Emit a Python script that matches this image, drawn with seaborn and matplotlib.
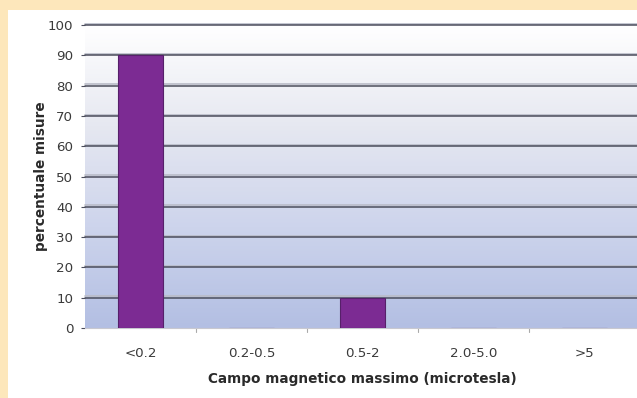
import numpy as np
import pandas as pd
import matplotlib
matplotlib.use("Agg")
import matplotlib.pyplot as plt
from matplotlib.patches import Rectangle
from matplotlib.colors import LinearSegmentedColormap
import seaborn as sns

# Distribution of measurements by maximum magnetic field class
categories = ["<0.2", "0.2-0.5", "0.5-2", "2.0-5.0", ">5"]
percent = [90, 0, 10, 0, 0]
y_ticks = [0, 10, 20, 30, 40, 50, 60, 70, 80, 90, 100]

df = pd.DataFrame({"classe": categories, "percentuale": percent})

sns.set_theme(style="white")
plt.rcParams["font.family"] = ["DejaVu Sans"]

fig = plt.figure(figsize=(6.37, 3.98), dpi=100)
fig.patch.set_facecolor("#fde7bb")
# white panel inside the cream frame
fig.patches.append(Rectangle((8 / 637, 0), 1, 1 - 10 / 398,
                             transform=fig.transFigure, facecolor="white",
                             edgecolor="none", zorder=-5))

ax = fig.add_axes([85 / 637, 70 / 398, 555 / 637, 303 / 398])
ax.set_facecolor("none")

# vertical gradient background of the plotting area
cmap = LinearSegmentedColormap.from_list(
    "bg", ["#b3bfe3", "#cdd4ec", "#e6e8f1", "#ffffff"])
grad = np.linspace(0, 1, 256).reshape(-1, 1)
ax.imshow(grad, cmap=cmap, aspect="auto", origin="lower",
          extent=(-0.5, 4.5, 0, 100), zorder=0)

# horizontal gridlines with a soft shadow
for v in y_ticks[1:]:
    ax.axhline(v + 0.45, color="#b9bcc8", lw=1.2, zorder=1, clip_on=False)
    ax.axhline(v, color="#4b4d5c", lw=1.1, zorder=1.5, clip_on=False)

sns.barplot(data=df, x="classe", y="percentuale", ax=ax, width=0.4,
            color="#7c2b93", edgecolor="#56206a", linewidth=0.8,
            saturation=1, zorder=3)

ax.set_xlim(-0.5, 4.5)
ax.set_ylim(0, 100)
ax.set_yticks(y_ticks)
ax.set_yticklabels([str(v) for v in y_ticks], fontsize=9.6, color="#3a3a3a")
ax.set_xticks(range(len(categories)))
ax.set_xticklabels(categories, fontsize=9.6, color="#3a3a3a")
ax.tick_params(axis="y", length=3, width=0.8, color="#4b4d5c", pad=5.5, left=True)
ax.tick_params(axis="x", length=0, pad=13.5)

# category separator ticks under the axis
for b in np.arange(0.5, 4.5, 1.0):
    ax.plot([b, b], [0, -1.2], color="#aaaaaa", lw=0.8, clip_on=False, zorder=2)

for side in ["top", "right", "left"]:
    ax.spines[side].set_visible(False)
ax.spines["bottom"].set_color("#c8c8d0")
ax.spines["bottom"].set_linewidth(0.8)

ax.set_xlabel("Campo magnetico massimo (microtesla)", fontsize=9.8,
              fontweight="bold", color="#2a2a2a", labelpad=9)
ax.set_ylabel("percentuale misure", fontsize=9.8, fontweight="bold",
              color="#2a2a2a", labelpad=-0.5)

fig.savefig("out.png", dpi=100, facecolor=fig.get_facecolor())
